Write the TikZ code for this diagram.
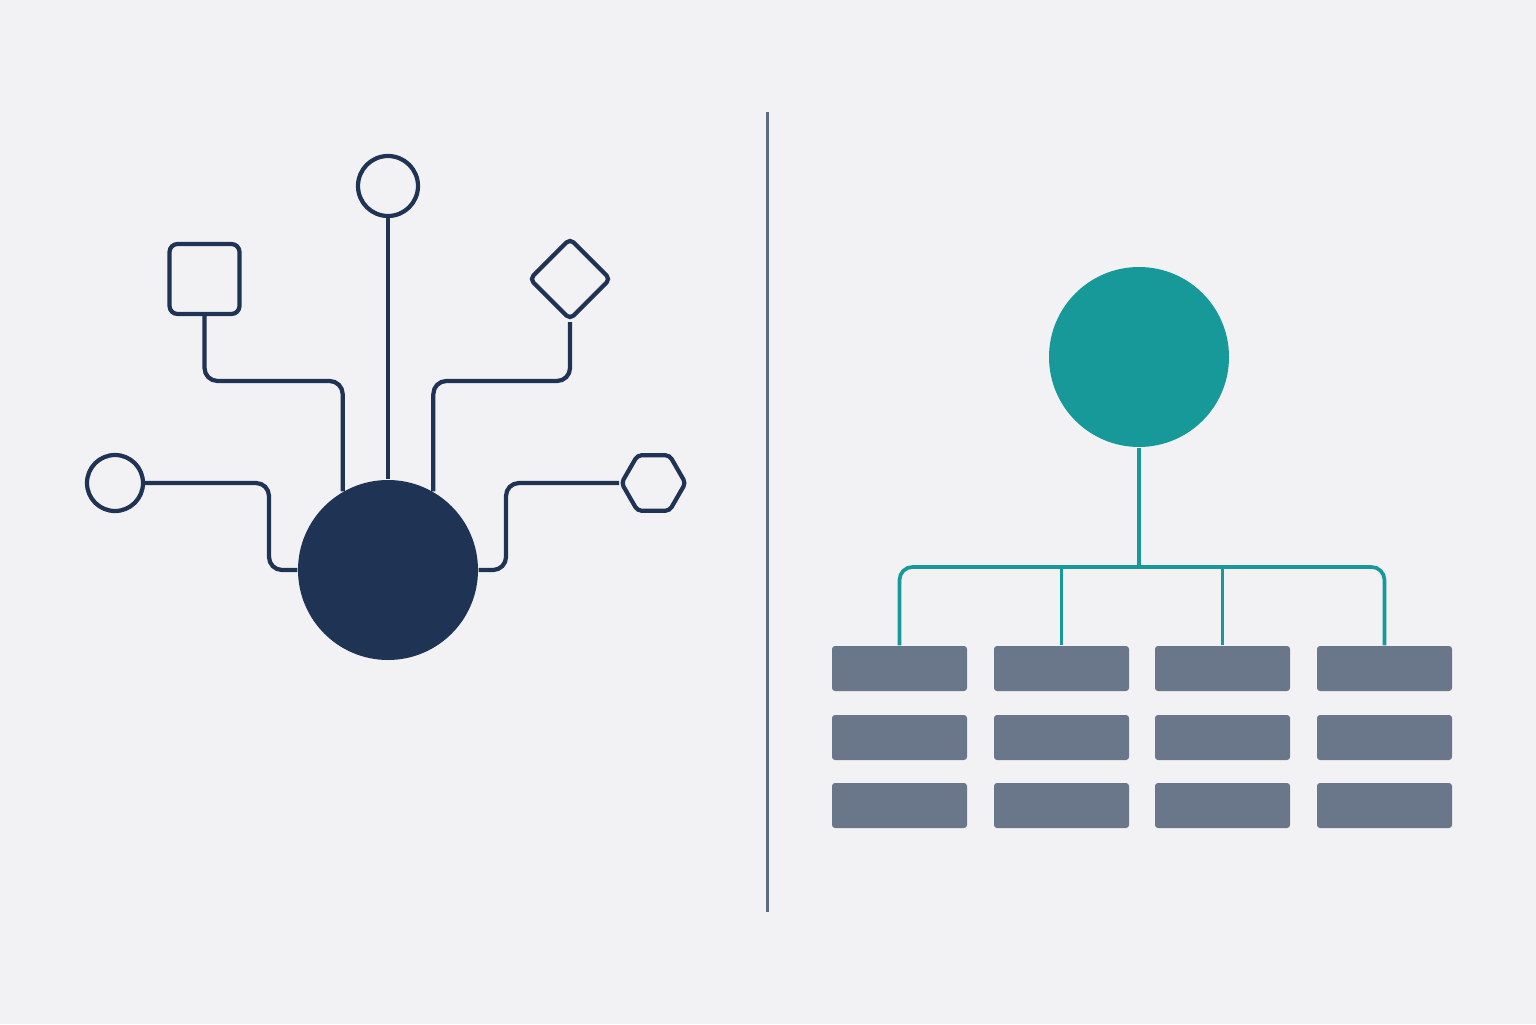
\documentclass[tikz,border=0pt]{standalone}
\usepackage{xcolor}
\usepackage{tikz}
\usetikzlibrary{calc,shapes.geometric}
\definecolor{bg}{HTML}{F2F2F4}
\definecolor{navy}{HTML}{1F3354}
\definecolor{teal}{HTML}{17999A}
\definecolor{slate}{HTML}{6A778A}
\definecolor{rule}{HTML}{5F6B7F}
\tikzset{
  nline/.style={draw=navy, line width=1.2pt, rounded corners=0.13cm},
  tline/.style={draw=teal, line width=1.05pt, rounded corners=0.13cm},
  divline/.style={draw=rule, line width=0.85pt},
  hubdot/.style={circle, fill=navy, inner sep=0pt, minimum size=1.8cm},
  orgdot/.style={circle, fill=teal, inner sep=0pt, minimum size=1.8cm},
  ring/.style={circle, draw=navy, line width=1.2pt, inner sep=0pt},
  sqbox/.style={rectangle, draw=navy, line width=1.2pt, rounded corners=0.08cm, inner sep=0pt, minimum size=0.7cm},
  dmbox/.style={diamond, draw=navy, line width=1.2pt, rounded corners=0.05cm, inner sep=0pt, minimum size=0.82cm},
  hexbox/.style={regular polygon, regular polygon sides=6, draw=navy, line width=1.2pt, rounded corners=0.04cm, inner sep=0pt, minimum size=0.64cm},
  bar/.style={rectangle, fill=slate, rounded corners=0.03cm, inner sep=0pt, minimum width=1.35cm, minimum height=0.45cm}
}

\begin{document}
\begin{tikzpicture}
  \fill[bg] (0,0) rectangle (15.36,10.24);
  \useasboundingbox (0,0) rectangle (15.36,10.24);

  % left: hub and its shapes
  \node[hubdot] (hub) at (3.88,4.54) {};
  \node[ring, minimum size=0.6cm] (top) at (3.88,8.38) {};
  \node[ring, minimum size=0.56cm] (lc) at (1.15,5.41) {};
  \node[sqbox] (sq) at (2.045,7.45) {};
  \node[dmbox] (dm) at (5.70,7.45) {};
  \node[hexbox] (hx) at (6.535,5.41) {};

  \coordinate (lvl) at (0,6.43);
  \coordinate (lbend) at (2.69,4.54);
  \coordinate (rbend) at (5.06,4.54);

  \draw[nline] (top.south) -- (hub.north);
  \draw[nline] (sq.south) |- (lvl -| hub.120.7) -- (hub.120.7);
  \draw[nline] (dm.south) |- (lvl -| hub.60.7) -- (hub.60.7);
  \draw[nline] (lc.east) -| (lbend) -- (hub.west);
  \draw[nline] (hx.west) -| (rbend) -- (hub.east);

  % divider
  \coordinate (dtop) at (7.67,9.12);
  \coordinate (dbot) at (7.67,1.12);
  \draw[divline] (dtop) -- (dbot);

  % right: org circle and grid of bars
  \node[orgdot] (org) at (11.39,6.67) {};
  \foreach \x [count=\i] in {8.995,10.615,12.225,13.845}
    \foreach \y [count=\j] in {3.555,2.865,2.185}
      \node[bar] (b\i-\j) at (\x,\y) {};

  \coordinate (bus) at (0,4.57);
  \draw[tline] (org.south) -- (org.south |- bus);
  \draw[tline] (b1-1.north) |- (b4-1.north |- bus) -- (b4-1.north);
  \draw[tline] (b2-1.north) -- (b2-1.north |- bus);
  \draw[tline] (b3-1.north) -- (b3-1.north |- bus);
\end{tikzpicture}
\end{document}
